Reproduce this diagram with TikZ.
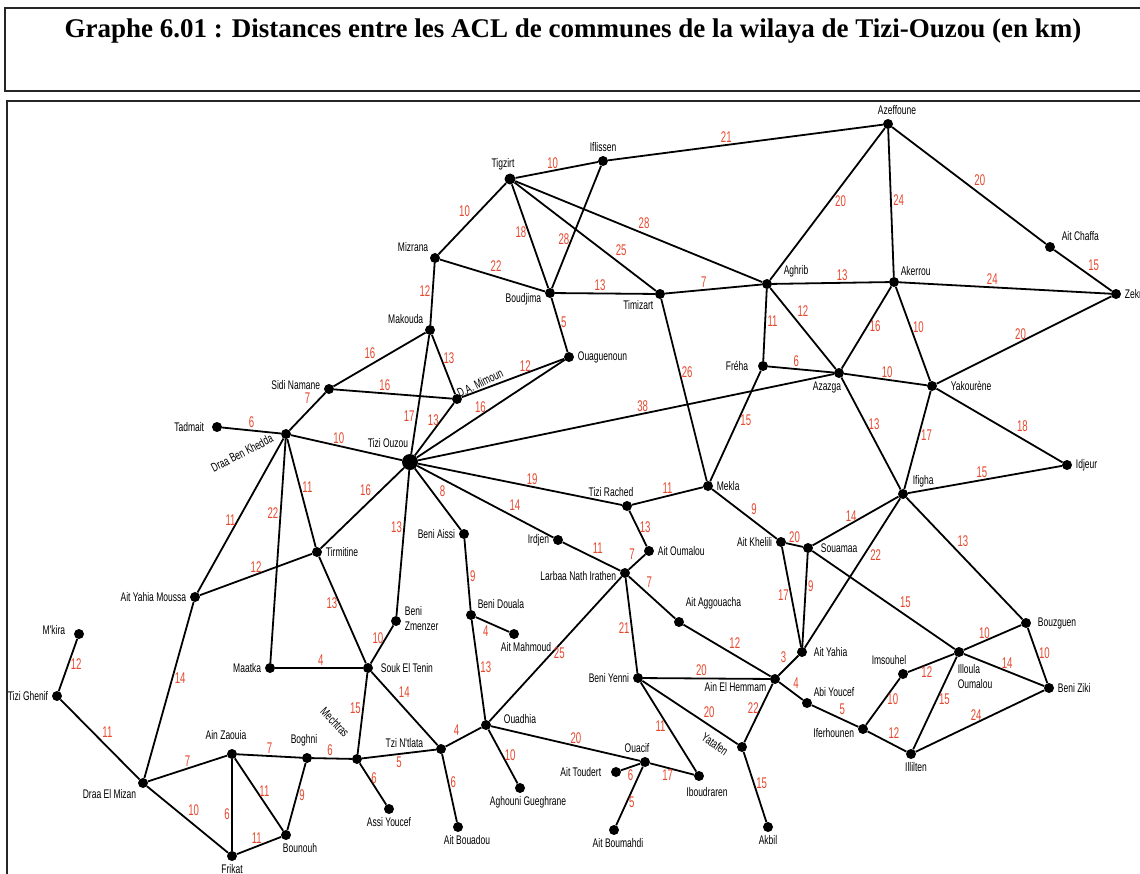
\documentclass[tikz,border=0pt]{standalone}
\usepackage{fontspec}
\setmainfont{Liberation Serif}
\newfontfamily\villefont[FakeStretch=0.68]{Liberation Sans}
\newfontfamily\poidsfont[FakeStretch=0.62]{Liberation Sans}
\newcommand{\villetxt}{\villefont\fontsize{12.5}{15}\selectfont}
\newcommand{\poidstxt}{\poidsfont\fontsize{15.5}{18}\selectfont}
\definecolor{poidsrouge}{RGB}{230,72,45}

\begin{document}
\begin{tikzpicture}[x=1pt, y=-1pt,
  ville/.style={circle, fill=black, inner sep=0pt, minimum size=10pt},
  chef/.style={ville, minimum size=16pt},
  every label/.style={font=\villetxt, inner sep=1.5pt},
  label distance=2pt,
  nomrot/.style={font=\villetxt, inner sep=0pt},
  poids/.style={font=\poidstxt, text=poidsrouge, inner sep=1.5pt},
  route/.style={line width=1.8pt},
  cadre/.style={line width=1.6pt, draw=black!85}
]
\useasboundingbox (0,0) rectangle (1140,873);
\draw[cadre] (5,8) rectangle (1170,91);
\draw[cadre] (7,101) rectangle (1170,900);
\node[font=\bfseries\fontsize{27}{32}\selectfont] (titre) at (573,31) {Graphe 6.01 : Distances entre les ACL de communes de la wilaya de Tizi-Ouzou (en km)};

\node[ville, label={[xshift=9pt]above:Azeffoune}] (azeffoune) at (888,124) {};
\node[ville, label={above:Iflissen}] (iflissen) at (603,161) {};
\node[ville, minimum size=11pt, label={[xshift=-7pt]above:Tigzirt}] (tigzirt) at (510,179) {};
\node[ville, label={above left:Mizrana}] (mizrana) at (435,258) {};
\node[ville, label={[yshift=-6pt]left:Boudjima}] (boudjima) at (550,293) {};
\node[ville, label={below left:Timizart}] (timizart) at (660,294) {};
\node[ville, label={[xshift=10pt]above right:Aghrib}] (aghrib) at (767,284) {};
\node[ville, label={above right:Akerrou}] (akerrou) at (894,282) {};
\node[ville, label={right:Zekri}] (zekri) at (1116,294) {};
\node[ville, label={[xshift=5pt]above right:Ait Chaffa}] (aitchaffa) at (1050,247) {};
\node[ville, label={above left:Makouda}] (makouda) at (430,330) {};
\node[ville, label={right:Ouaguenoun}] (ouaguenoun) at (569,357) {};
\node[ville, label={[xshift=-6pt]left:Fréha}] (freha) at (763,366) {};
\node[ville, label={[xshift=-12pt]below:Azazga}] (azazga) at (839,373) {};
\node[ville, label={[xshift=10pt]right:Yakourène}] (yakourene) at (932,386) {};
\node[ville, label={right:Idjeur}] (idjeur) at (1067,465) {};
\node[ville, label={[xshift=3pt]above right:Ifigha}] (ifigha) at (903,494) {};
\node[ville, label={left:Ait Khelili}] (aitkhelili) at (781,542) {};
\node[ville, label={[xshift=4pt]right:Souamaa}] (souamaa) at (808,548) {};
\node[ville, label={[yshift=4pt]left:Sidi Namane}] (sidinamane) at (329,389) {};
\node[ville] (damimoun) at (457,399) {};
\node[ville, label={[xshift=-4pt]left:Tadmait}] (tadmait) at (217,427) {};
\node[ville] (dbk) at (286,434) {};
\node[chef, label={[xshift=-22pt, yshift=2pt]above:Tizi Ouzou}] (tiziouzou) at (410,462) {};
\node[ville, label={[xshift=-16pt]above:Tizi Rached}] (tizirached) at (627,506) {};
\node[ville, label={right:Mekla}] (mekla) at (708,486) {};
\node[ville, label={left:Beni Aissi}] (beniaissi) at (464,534) {};
\node[ville, label={left:Irdjen}] (irdjen) at (558,540) {};
\node[ville, label={right:Ait Oumalou}] (aitoumalou) at (649,551) {};
\node[ville, label={[yshift=-3pt]left:Larbaa Nath Irathen}] (larbaa) at (625,573) {};
\node[ville, label={right:Tirmitine}] (tirmitine) at (317,552) {};
\node[ville, label={left:Ait Yahia Moussa}] (aym) at (195,597) {};
\node[ville, label={[yshift=6pt]above right:Ait Aggouacha}] (aitaggouacha) at (679,622) {};
\node[ville, label={above right:Beni Douala}] (benidouala) at (471,615) {};
\node[ville, label={[xshift=12pt]below:Ait Mahmoud}] (aitmahmoud) at (514,634) {};
\node[ville, label={[align=left, yshift=2pt]right:Beni\\Zmenzer}] (benizmenzer) at (396,621) {};
\node[ville, label={[xshift=-5pt, yshift=4pt]left:M'kira}] (mkira) at (79,634) {};
\node[ville, label={left:Maatka}] (maatka) at (270,668) {};
\node[ville, label={[xshift=4pt]right:Souk El Tenin}] (souk) at (368,668) {};
\node[ville, label={left:Tizi Ghenif}] (tizighenif) at (57,696) {};
\node[ville, label={left:Beni Yenni}] (beniyenni) at (638,678) {};
\node[ville, label={[yshift=-8pt]left:Ain El Hemmam}] (ainelhemmam) at (775,679) {};
\node[ville, label={[xshift=3pt]right:Ait Yahia}] (aityahia) at (802,652) {};
\node[ville, label={above right:Abi Youcef}] (abiyoucef) at (807,703) {};
\node[ville, label={[xshift=-14pt]above:Imsouhel}] (imsouhel) at (903,674) {};
\node[ville, label={[align=left, xshift=-8pt, yshift=-6pt]below right:Illoula\\Oumalou}] (illoula) at (959,652) {};
\node[ville, label={[xshift=3pt]right:Bouzguen}] (bouzguen) at (1026,623) {};
\node[ville, label={right:Beni Ziki}] (beniziki) at (1049,688) {};
\node[ville, label={[yshift=-4pt]left:Iferhounen}] (iferhounen) at (863,729) {};
\node[ville, label={[xshift=5pt]below:Illilten}] (illilten) at (911,754) {};
\node[ville, label={[xshift=9pt, yshift=6pt]right:Ouadhia}] (ouadhia) at (486,725) {};
\node[ville, label={[xshift=-9pt, yshift=6pt]left:Tzi N'tlata}] (tzintlata) at (441,749) {};
\node[ville] (mechtras) at (357,759) {};
\node[ville, label={[xshift=-3pt, yshift=3pt]above:Boghni}] (boghni) at (307,758) {};
\node[ville, label={[xshift=-6pt, yshift=5pt]above:Ain Zaouia}] (ainzaouia) at (232,754) {};
\node[ville, label={below left:Draa El Mizan}] (dem) at (143,783) {};
\node[ville, label={below:Frikat}] (frikat) at (232,856) {};
\node[ville, label={[xshift=14pt]below:Bounouh}] (bounouh) at (286,835) {};
\node[ville, label={below:Assi Youcef}] (assiyoucef) at (389,809) {};
\node[ville, label={[xshift=9pt]below:Ait Bouadou}] (aitbouadou) at (458,827) {};
\node[ville, label={[xshift=8pt]below:Aghouni Gueghrane}] (aghouni) at (520,788) {};
\node[ville, label={[xshift=-8pt]above:Ouacif}] (ouacif) at (645,762) {};
\node[ville, label={[xshift=-6pt]left:Ait Toudert}] (aittoudert) at (616,772) {};
\node[ville, label={[xshift=8pt, yshift=-3pt]below:Iboudraren}] (iboudraren) at (699,776) {};
\node[ville, label={[xshift=4pt]below:Ait Boumahdi}] (aitboumahdi) at (614,830) {};
\node[ville] (yatafen) at (742,747) {};
\node[ville, label={below:Akbil}] (akbil) at (768,827) {};

\node[nomrot, rotate=26] (damimoun-nom) at (480,383) {D.A. Mimoun};
\node[nomrot, rotate=27] (dbk-nom) at (242,453) {Draa Ben Khedda};
\node[nomrot, rotate=-46] (mechtras-nom) at (335,722) {Mechtras};
\node[nomrot, rotate=-34] (yatafen-nom) at (715,744) {Yatafen};

\draw[route] (tigzirt) -- node[poids, pos=.45, above] {10} (iflissen);
\draw[route] (iflissen) -- node[poids, pos=.43, above] {21} (azeffoune);
\draw[route] (tigzirt) -- node[poids, pos=.5, above left] {10} (mizrana);
\draw[route] (tigzirt) -- node[poids, pos=.46, left] {18} (boudjima);
\draw[route] (iflissen) -- node[poids, pos=.6, left] {28} (boudjima);
\draw[route] (tigzirt) -- node[poids, pos=.7, above right] {25} (timizart);
\draw[route] (tigzirt) -- node[poids, pos=.49, above right] {28} (aghrib);
\draw[route] (mizrana) -- node[poids, pos=.46, above right] {22} (boudjima);
\draw[route] (mizrana) -- node[poids, pos=.45, left] {12} (makouda);
\draw[route] (boudjima) -- node[poids, pos=.45, above] {13} (timizart);
\draw[route] (timizart) -- node[poids, pos=.4, above] {7} (aghrib);
\draw[route] (boudjima) -- node[poids, pos=.45, right] {5} (ouaguenoun);
\draw[route] (timizart) -- node[poids, pos=.4, right] {26} (mekla);
\draw[route] (azeffoune) -- node[poids, pos=.48, right=3pt] {20} (aghrib);
\draw[route] (azeffoune) -- node[poids, pos=.48, right] {24} (akerrou);
\draw[route] (azeffoune) -- node[poids, pos=.52, above right] {20} (aitchaffa);
\draw[route] (aitchaffa) -- node[poids, pos=.55, above right] {15} (zekri);
\draw[route] (aghrib) -- node[poids, pos=.6, above] {13} (akerrou);
\draw[route] (akerrou) -- node[poids, pos=.44, above] {24} (zekri);
\draw[route] (aghrib) -- node[poids, pos=.45, right] {11} (freha);
\draw[route] (aghrib) -- node[poids, pos=.38, above right] {12} (azazga);
\draw[route] (akerrou) -- node[poids, pos=.48, right] {16} (azazga);
\draw[route] (akerrou) -- node[poids, pos=.43, right] {10} (yakourene);
\draw[route] (zekri) -- node[poids, pos=.52, above] {20} (yakourene);
\draw[route] (freha) -- node[poids, pos=.43, above] {6} (azazga);
\draw[route] (azazga) -- node[poids, pos=.52, above] {10} (yakourene);
\draw[route] (freha) -- node[poids, pos=.45, right] {15} (mekla);
\draw[route] (azazga) -- node[poids, pos=.46, above] {38} (tiziouzou);
\draw[route] (azazga) -- node[poids, pos=.42, right] {13} (ifigha);
\draw[route] (yakourene) -- node[poids, pos=.45, right] {17} (ifigha);
\draw[route] (yakourene) -- node[poids, pos=.62, above right] {18} (idjeur);
\draw[route] (ifigha) -- node[poids, pos=.48, above] {15} (idjeur);
\draw[route] (ifigha) -- node[poids, pos=.55, above] {14} (souamaa);
\draw[route] (aitkhelili) -- node[poids, pos=.5, above] {20} (souamaa);
\draw[route] (ifigha) -- node[poids, pos=.38, right=4pt] {22} (aityahia);
\draw[route] (ifigha) -- node[poids, pos=.42, above right] {13} (bouzguen);
\draw[route] (aitkhelili) -- node[poids, pos=.48, left] {17} (aityahia);
\draw[route] (souamaa) -- node[poids, pos=.35, right] {9} (aityahia);
\draw[route] (souamaa) -- node[poids, pos=.6, above right] {15} (illoula);
\draw[route] (mekla) -- node[poids, pos=.57, above right] {9} (aitkhelili);
\draw[route] (mekla) -- node[poids, pos=.5, above] {11} (tizirached);
\draw[route] (makouda) -- node[poids, pos=.52, above left] {16} (sidinamane);
\draw[route] (makouda) -- node[poids, pos=.4, right] {13} (damimoun);
\draw[route] (makouda) -- node[poids, pos=.68, left] {17} (tiziouzou);
\draw[route] (sidinamane) -- node[poids, pos=.43, above] {16} (damimoun);
\draw[route] (sidinamane) -- node[poids, pos=.36, above left] {7} (dbk);
\draw[route] (damimoun) -- node[poids, pos=.62, above] {12} (ouaguenoun);
\draw[route] (damimoun) -- node[poids, pos=.33, left] {13} (tiziouzou);
\draw[route] (ouaguenoun) -- node[poids, pos=.57, above] {16} (tiziouzou);
\draw[route] (tadmait) -- node[poids, pos=.5, above] {6} (dbk);
\draw[route] (dbk) -- node[poids, pos=.43, above] {10} (tiziouzou);
\draw[route] (dbk) -- node[poids, pos=.53, left] {11} (aym);
\draw[route] (dbk) -- node[poids, pos=.33, left] {22} (maatka);
\draw[route] (dbk) -- node[poids, pos=.45, right] {11} (tirmitine);
\draw[route] (tiziouzou) -- node[poids, pos=.37, above left] {16} (tirmitine);
\draw[route] (tiziouzou) -- node[poids, pos=.39, left] {13} (benizmenzer);
\draw[route] (tiziouzou) -- node[poids, pos=.49, above right] {8} (beniaissi);
\draw[route] (tiziouzou) -- node[poids, pos=.66, above right] {14} (irdjen);
\draw[route] (tiziouzou) -- node[poids, pos=.56, above] {19} (tizirached);
\draw[route] (tizirached) -- node[poids, pos=.47, right] {13} (aitoumalou);
\draw[route] (aitoumalou) -- node[poids, pos=.5, above left] {7} (larbaa);
\draw[route] (irdjen) -- node[poids, pos=.48, above right] {11} (larbaa);
\draw[route] (larbaa) -- node[poids, pos=.33, above right] {7} (aitaggouacha);
\draw[route] (larbaa) -- node[poids, pos=.53, left] {21} (beniyenni);
\draw[route] (larbaa) -- node[poids, pos=.53, right] {25} (ouadhia);
\draw[route] (beniaissi) -- node[poids, pos=.52, right] {9} (benidouala);
\draw[route] (benidouala) -- node[poids, pos=.45, below left] {4} (aitmahmoud);
\draw[route] (benidouala) -- node[poids, pos=.47, right] {13} (ouadhia);
\draw[route] (tirmitine) -- node[poids, pos=.5, above] {12} (aym);
\draw[route] (tirmitine) -- node[poids, pos=.44, left] {13} (souk);
\draw[route] (benizmenzer) -- node[poids, pos=.34, left] {10} (souk);
\draw[route] (maatka) -- node[poids, pos=.52, above] {4} (souk);
\draw[route] (souk) -- node[poids, pos=.38, above right] {14} (tzintlata);
\draw[route] (souk) -- node[poids, pos=.44, left] {15} (mechtras);
\draw[route] (aym) -- node[poids, pos=.43, right] {14} (dem);
\draw[route] (mkira) -- node[poids, pos=.48, right] {12} (tizighenif);
\draw[route] (tizighenif) -- node[poids, pos=.5, above right] {11} (dem);
\draw[route] (dem) -- node[poids, pos=.5, above] {7} (ainzaouia);
\draw[route] (dem) -- node[poids, pos=.48, above right] {10} (frikat);
\draw[route] (ainzaouia) -- node[poids, pos=.5, above] {7} (boghni);
\draw[route] (ainzaouia) -- node[poids, pos=.6, left] {6} (frikat);
\draw[route] (ainzaouia) -- node[poids, pos=.46, right] {11} (bounouh);
\draw[route] (frikat) -- node[poids, pos=.45, above] {11} (bounouh);
\draw[route] (boghni) -- node[poids, pos=.48, right] {9} (bounouh);
\draw[route] (boghni) -- node[poids, pos=.45, above] {6} (mechtras);
\draw[route] (mechtras) -- node[poids, pos=.5, below] {5} (tzintlata);
\draw[route] (mechtras) -- node[poids, pos=.35, right] {6} (assiyoucef);
\draw[route] (tzintlata) -- node[poids, pos=.45, above left] {4} (ouadhia);
\draw[route] (tzintlata) -- node[poids, pos=.42, right] {6} (aitbouadou);
\draw[route] (ouadhia) -- node[poids, pos=.48, right] {10} (aghouni);
\draw[route] (ouadhia) -- node[poids, pos=.57, above] {20} (ouacif);
\draw[route] (ouacif) -- node[poids, pos=.5, below] {6} (aittoudert);
\draw[route] (ouacif) -- node[poids, pos=.4, below] {17} (iboudraren);
\draw[route] (ouacif) -- node[poids, pos=.6, right] {5} (aitboumahdi);
\draw[route] (beniyenni) -- node[poids, pos=.46, above] {20} (ainelhemmam);
\draw[route] (beniyenni) -- node[poids, pos=.49, left] {11} (iboudraren);
\draw[route] (beniyenni) -- node[poids, pos=.62, above right] {20} (yatafen);
\draw[route] (aitaggouacha) -- node[poids, pos=.5, above right] {12} (ainelhemmam);
\draw[route] (ainelhemmam) -- node[poids, pos=.41, left] {22} (yatafen);
\draw[route] (ainelhemmam) -- node[poids, pos=.5, above left] {3} (aityahia);
\draw[route] (ainelhemmam) -- node[poids, pos=.5, above right] {4} (abiyoucef);
\draw[route] (yatafen) -- node[poids, pos=.45, right] {15} (akbil);
\draw[route] (abiyoucef) -- node[poids, pos=.55, above right] {5} (iferhounen);
\draw[route] (iferhounen) -- node[poids, pos=.56, right] {10} (imsouhel);
\draw[route] (iferhounen) -- node[poids, pos=.48, above right] {12} (illilten);
\draw[route] (imsouhel) -- node[poids, pos=.41, below] {12} (illoula);
\draw[route] (illoula) -- node[poids, pos=.36, above] {10} (bouzguen);
\draw[route] (illoula) -- node[poids, pos=.54, above] {14} (beniziki);
\draw[route] (illoula) -- node[poids, pos=.46, right] {15} (illilten);
\draw[route] (bouzguen) -- node[poids, pos=.46, right] {10} (beniziki);
\draw[route] (illilten) -- node[poids, pos=.47, above] {24} (beniziki);
\end{tikzpicture}
\end{document}
